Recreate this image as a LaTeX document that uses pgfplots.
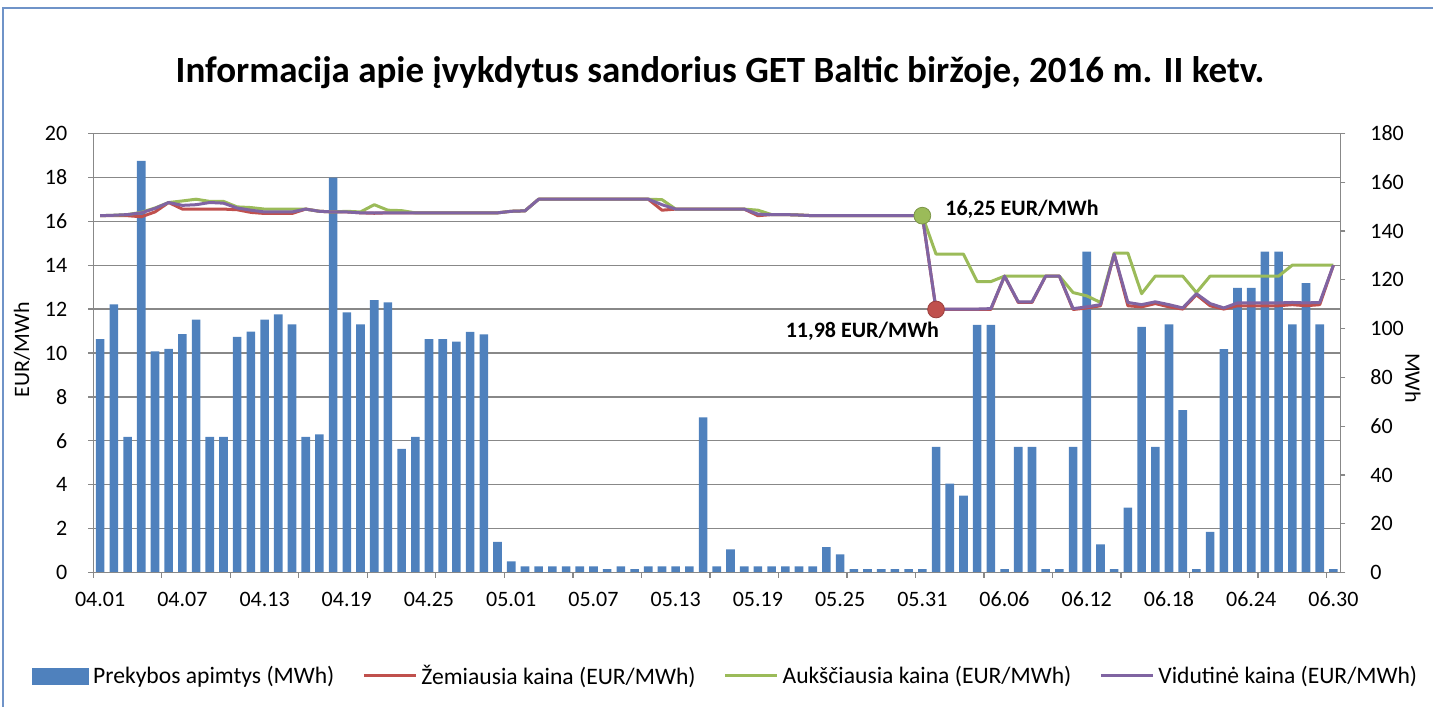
\documentclass[border=0pt]{standalone}
\usepackage{fontspec}
\setmainfont{Carlito}
\usepackage{pgfplots}
\usepackage{pgfplotstable}
\pgfplotsset{compat=1.18}
\definecolor{barblue}{HTML}{4F81BD}
\definecolor{lowred}{HTML}{C0504D}
\definecolor{highgreen}{HTML}{9BBB59}
\definecolor{avgpurple}{HTML}{8064A2}
\definecolor{axisgray}{HTML}{888888}
\definecolor{framebl}{HTML}{6F93C8}
\newcommand\ticksize{\fontsize{11}{13}\selectfont}
\newcommand\legsize{\fontsize{11.8}{14}\selectfont}

% trading volume, MWh (day index 0 = 04.01)
\pgfplotstableread{
i vol
0 95.7
1 109.9
2 55.6
3 168.7
4 90.7
5 91.7
6 97.7
7 103.7
8 55.6
9 55.6
10 96.6
11 98.8
12 103.7
13 105.8
14 101.7
15 55.6
16 56.7
17 161.8
18 106.6
19 101.7
20 111.7
21 110.7
22 50.7
23 55.6
24 95.7
25 95.7
26 94.7
27 98.7
28 97.6
29 12.6
30 4.6
31 2.6
32 2.6
33 2.6
34 2.6
35 2.6
36 2.6
37 1.5
38 2.6
39 1.5
40 2.6
41 2.6
42 2.6
43 2.6
44 63.6
45 2.6
46 9.6
47 2.6
48 2.6
49 2.6
50 2.6
51 2.6
52 2.6
53 10.5
54 7.5
55 1.5
56 1.5
57 1.5
58 1.5
59 1.5
60 1.5
61 51.5
62 36.5
63 31.6
64 101.5
65 101.5
66 1.5
67 51.5
68 51.5
69 1.5
70 1.5
71 51.5
72 131.5
73 11.6
74 1.5
75 26.7
76 100.7
77 51.5
78 101.7
79 66.6
80 1.5
81 16.7
82 91.6
83 116.7
84 116.7
85 131.5
86 131.5
87 101.7
88 118.6
89 101.7
90 1.5
}\voltable

% prices, EUR/MWh
\pgfplotstableread{
i low high avg
0 16.25 16.25 16.25
1 16.25 16.27 16.27
2 16.25 16.30 16.30
3 16.20 16.40 16.38
4 16.42 16.60 16.58
5 16.85 16.85 16.85
6 16.55 16.92 16.72
7 16.55 17.00 16.75
8 16.55 16.90 16.85
9 16.55 16.90 16.82
10 16.52 16.65 16.60
11 16.40 16.62 16.50
12 16.35 16.55 16.42
13 16.35 16.55 16.42
14 16.35 16.55 16.42
15 16.55 16.55 16.55
16 16.45 16.45 16.45
17 16.42 16.42 16.42
18 16.42 16.45 16.42
19 16.38 16.42 16.38
20 16.36 16.75 16.38
21 16.38 16.50 16.38
22 16.38 16.48 16.38
23 16.38 16.38 16.38
24 16.38 16.38 16.38
25 16.38 16.38 16.38
26 16.38 16.38 16.38
27 16.38 16.38 16.38
28 16.38 16.38 16.38
29 16.38 16.38 16.38
30 16.45 16.45 16.45
31 16.47 16.47 16.47
32 17.00 17.00 17.00
33 17.00 17.00 17.00
34 17.00 17.00 17.00
35 17.00 17.00 17.00
36 17.00 17.00 17.00
37 17.00 17.00 17.00
38 17.00 17.00 17.00
39 17.00 17.00 17.00
40 17.00 17.00 17.00
41 16.50 16.98 16.75
42 16.55 16.55 16.55
43 16.55 16.55 16.55
44 16.55 16.55 16.55
45 16.55 16.55 16.55
46 16.55 16.55 16.55
47 16.55 16.55 16.55
48 16.25 16.50 16.32
49 16.30 16.30 16.30
50 16.30 16.30 16.30
51 16.28 16.28 16.28
52 16.25 16.25 16.25
53 16.25 16.25 16.25
54 16.25 16.25 16.25
55 16.25 16.25 16.25
56 16.25 16.25 16.25
57 16.25 16.25 16.25
58 16.25 16.25 16.25
59 16.25 16.25 16.25
60 16.25 16.25 16.25
61 11.98 14.50 12.00
62 11.98 14.50 12.00
63 11.98 14.50 12.00
64 11.98 13.25 12.00
65 11.98 13.25 12.02
66 13.50 13.50 13.50
67 12.30 13.50 12.33
68 12.30 13.50 12.33
69 13.50 13.50 13.50
70 13.50 13.50 13.50
71 11.98 12.75 12.02
72 12.05 12.60 12.10
73 12.15 12.30 12.20
74 14.50 14.55 14.50
75 12.15 14.55 12.30
76 12.10 12.70 12.20
77 12.25 13.50 12.33
78 12.10 13.50 12.20
79 12.00 13.50 12.05
80 12.65 12.75 12.70
81 12.15 13.50 12.25
82 12.00 13.50 12.05
83 12.15 13.50 12.28
84 12.15 13.50 12.28
85 12.15 13.50 12.28
86 12.15 13.50 12.28
87 12.20 14.00 12.30
88 12.15 14.00 12.28
89 12.20 14.00 12.30
90 14.00 14.00 14.00
}\pricetable

\begin{document}
\begin{tikzpicture}
\pgfplotsset{
  every axis/.append style={
    scale only axis, width=623.5pt, height=219.7pt,
    at={(0pt,0pt)}, anchor=south west,
    xmin=-0.5, xmax=90.5,
    tick align=outside, major tick length=2.5pt,
    /pgf/number format/assume math mode=true,
  },
}
% volumes on the secondary (right) axis, drawn first; grid follows the left scale
\begin{axis}[
  ymin=0, ymax=180, ytick={0,20,...,180},
  axis x line=none, axis y line*=right,
  y axis line style={axisgray, line width=0.6pt},
  ytick style={axisgray, line width=0.6pt},
  extra y ticks={18,36,...,180}, extra y tick labels={},
  extra y tick style={grid=major, major tick length=0pt},
  grid style={axisgray, line width=0.6pt},
  yticklabel style={font=\ticksize, xshift=9pt},
  ybar, bar width=4.3pt,
]
\addplot[fill=barblue, draw=none] table[x=i, y=vol]{\voltable};
\end{axis}
% prices on the primary (left) axis
\begin{axis}[
  ymin=0, ymax=20, ytick={0,2,...,20},
  axis x line*=bottom, axis y line*=left,
  axis line style={axisgray, line width=0.6pt},
  tick style={axisgray, line width=0.6pt},
  xtick={-0.5,4.5,...,89.5}, xticklabels={},
  extra x ticks={0,6,12,18,24,30,36,42,48,54,60,66,72,78,84,90},
  extra x tick labels={04.01,04.07,04.13,04.19,04.25,05.01,05.07,05.13,05.19,05.25,05.31,06.06,06.12,06.18,06.24,06.30},
  extra x tick style={major tick length=0pt,
    xticklabel style={anchor=base, yshift=-17pt}},
  yticklabel style={font=\ticksize, xshift=-7pt},
  xticklabel style={font=\ticksize},
  legend columns=4,
  legend cell align=left,
  legend style={draw=none, fill=none, at={(0.508,-0.235)}, anchor=center,
    font=\legsize, inner sep=0pt,
    /tikz/every even column/.append style={column sep=12pt}},
]
\addlegendimage{legend image code/.code={\fill[barblue] (0pt,-4pt) rectangle (28pt,4pt);}}
\addlegendentry{Prekybos apimtys (MWh)}
\addplot[lowred, line width=1.5pt, line join=round, mark=none,
  legend image code/.code={\draw[line width=1.5pt] (0pt,0pt) -- (26pt,0pt);}]
  table[x=i, y=low]{\pricetable};
\addlegendentry{Žemiausia kaina (EUR/MWh)}
\addplot[highgreen, line width=1.5pt, line join=round, mark=none,
  legend image code/.code={\draw[line width=1.5pt] (0pt,0pt) -- (26pt,0pt);}]
  table[x=i, y=high]{\pricetable};
\addlegendentry{Aukščiausia kaina (EUR/MWh)}
\addplot[avgpurple, line width=1.5pt, line join=round, mark=none,
  legend image code/.code={\draw[line width=1.5pt] (0pt,0pt) -- (26pt,0pt);}]
  table[x=i, y=avg]{\pricetable};
\addlegendentry{Vidutinė kaina (EUR/MWh)}
\addplot[only marks, mark=*, mark size=4.2pt, forget plot,
  mark options={fill=highgreen, draw=highgreen!80!black, line width=0.4pt}]
  coordinates {(60,16.25)};
\addplot[only marks, mark=*, mark size=4.2pt, forget plot,
  mark options={fill=lowred, draw=lowred!80!black, line width=0.4pt}]
  coordinates {(61,11.98)};
\node[anchor=west, font=\ticksize\bfseries, xshift=8pt, yshift=3pt] at (axis cs:60,16.25) {16,25 EUR/MWh};
\node[anchor=east, font=\ticksize\bfseries, xshift=5pt, yshift=-11pt] at (axis cs:61,11.98) {11,98 EUR/MWh};
\end{axis}
\node[font=\fontsize{18.5}{22}\selectfont\bfseries] at (313.35pt,249.85pt)
  {Informacija apie įvykdytus sandorius GET Baltic biržoje, 2016 m. II ketv.};
\node[rotate=90, font=\ticksize] at (-35.65pt,111.35pt) {EUR/MWh};
\node[rotate=-90, font=\ticksize] at (659.85pt,97.35pt) {MWh};
\draw[framebl, line width=1pt] (-45.15pt,282.35pt) rectangle (720pt,-120pt);
\pgfresetboundingbox
\useasboundingbox (-46.65pt,-66.65pt) rectangle (669.85pt,286.35pt);
\end{tikzpicture}
\end{document}
